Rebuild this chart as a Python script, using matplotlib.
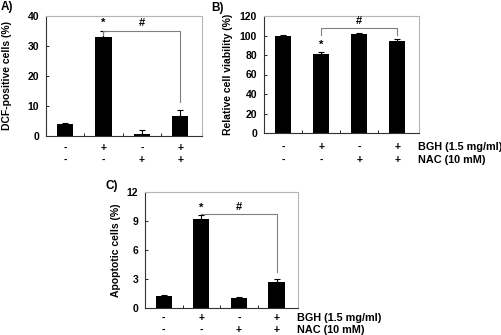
import matplotlib
matplotlib.use("Agg")
import matplotlib.pyplot as plt
import numpy as np

plt.rcParams['font.family'] = ['Liberation Sans', 'DejaVu Sans']
plt.rcParams['font.weight'] = 'bold'

# data
groups = [0, 1, 2, 3]
bgh_signs = ['-', '+', '-', '+']
nac_signs = ['-', '-', '+', '+']

dcf_vals = [4.0, 32.9, 0.8, 6.5]
dcf_err = [0.4, 2.0, 1.2, 2.0]

viab_vals = [99.8, 81.0, 101.5, 94.2]
viab_err = [0.6, 2.0, 1.0, 2.4]

apop_vals = [1.2, 9.25, 1.0, 2.7]
apop_err = [0.15, 0.35, 0.1, 0.35]

W, H = 502, 335
fig = plt.figure(figsize=(W / 100, H / 100), dpi=100)


def px_axes(left, right, top, bottom):
    return fig.add_axes([left / W, 1 - bottom / H, (right - left) / W, (bottom - top) / H])


def draw_panel(ax, vals, err, ymax, ystep, ylabel, label_x, row_off, row_labels=False):
    ax.bar(groups, vals, width=0.43, color='black', zorder=2)
    ax.errorbar(groups, vals, yerr=[np.zeros(len(vals)), err], fmt='none',
                ecolor='black', elinewidth=0.8, capsize=2.5, capthick=0.8, zorder=3)
    ax.set_xlim(-0.5, 3.57)
    ax.set_ylim(0, ymax)
    ticks = np.arange(0, ymax + 0.01, ystep)
    ax.set_yticks(ticks)
    ax.set_yticklabels([f"{v:g}" for v in ticks])
    ax.set_xticks([0.5, 1.5, 2.5])
    ax.set_xticklabels([])
    ax.tick_params(axis='both', direction='in', length=2.5, width=0.6,
                   labelsize=7.5, pad=5)
    for s in ['top', 'right']:
        ax.spines[s].set_color('#b5b5b5')
        ax.spines[s].set_linewidth(0.8)
    for s in ['left', 'bottom']:
        ax.spines[s].set_color('#333333')
        ax.spines[s].set_linewidth(0.8)
    ax.set_ylabel(ylabel, fontsize=7.5, fontweight='bold')
    ax.yaxis.set_label_coords(label_x, 0.5)
    for i in groups:
        ax.annotate(bgh_signs[i], xy=(i, 0), xycoords=('data', 'axes fraction'),
                    xytext=(0, -row_off[0] * 0.72), textcoords='offset points',
                    ha='center', va='center', fontsize=7.5, fontweight='bold')
        ax.annotate(nac_signs[i], xy=(i, 0), xycoords=('data', 'axes fraction'),
                    xytext=(0, -row_off[1] * 0.72), textcoords='offset points',
                    ha='center', va='center', fontsize=7.5, fontweight='bold')
    if row_labels:
        ax.annotate('BGH (1.5 mg/ml)', xy=(3.55, 0), xycoords=('data', 'axes fraction'),
                    xytext=(0, -row_off[0] * 0.72), textcoords='offset points',
                    ha='left', va='center', fontsize=7.8, fontweight='bold')
        ax.annotate('NAC (10 mM)', xy=(3.55, 0), xycoords=('data', 'axes fraction'),
                    xytext=(0, -row_off[1] * 0.72), textcoords='offset points',
                    ha='left', va='center', fontsize=7.8, fontweight='bold')


br = dict(color='#808080', lw=0.8, zorder=4)

# A
axA = px_axes(46, 202, 15.5, 136)
draw_panel(axA, dcf_vals, dcf_err, 40, 10, 'DCF-positive cells (%)', -0.22, (12, 24))
axA.plot([1, 1, 3, 3], [33.5, 35, 35, 11.3], **br)
axA.text(1, 37.5, '*', ha='center', va='center', fontsize=8)
axA.text(2, 37.5, '#', ha='center', va='center', fontsize=8)

# B
axB = px_axes(264, 419, 16, 133)
draw_panel(axB, viab_vals, viab_err, 120, 20, 'Relative cell viability (%)', -0.2, (14, 27),
           row_labels=True)
axB.plot([1, 1, 3, 3], [100.5, 107.8, 107.8, 100.5], **br)
axB.text(1, 90, '*', ha='center', va='center', fontsize=8)
axB.text(2, 115, '#', ha='center', va='center', fontsize=8)

# C
axC = px_axes(145, 298, 192, 308)
draw_panel(axC, apop_vals, apop_err, 12, 3, 'Apoptotic cells (%)', -0.16, (10, 22),
           row_labels=True)
axC.plot([1, 3, 3], [9.7, 9.7, 3.75], **br)
axC.text(1, 10.4, '*', ha='center', va='center', fontsize=8)
axC.text(2, 10.4, '#', ha='center', va='center', fontsize=8)

fig.text(1 / W, 1 - 1 / H, 'A)', fontsize=8.5, fontweight='bold', ha='left', va='top')
fig.text(211 / W, 1 - 8 / H, 'B)', fontsize=8.5, fontweight='bold', ha='left', va='center')
fig.text(106 / W, 1 - 186 / H, 'C)', fontsize=8.5, fontweight='bold', ha='left', va='center')

fig.savefig('out.png', dpi=100, facecolor='white')
